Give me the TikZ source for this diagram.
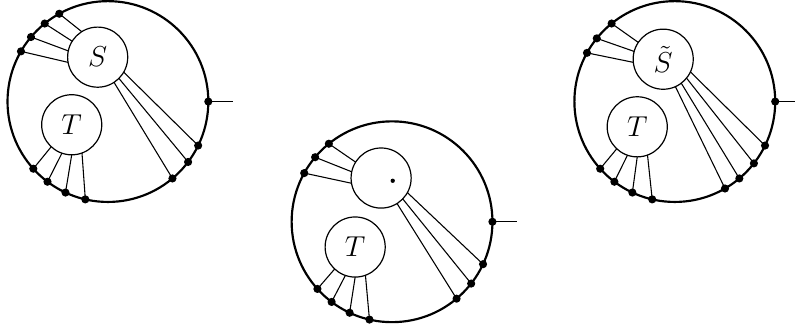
\documentclass[tikz,border=0pt]{standalone}
\usepackage{amsmath}
\usetikzlibrary{positioning}

\begin{document}
\begin{tikzpicture}[
    blob/.style={draw=black, line width=0.9pt, circle, minimum size=2.94cm, inner sep=0pt, outer sep=0pt},
    vertex/.style={draw=black, line width=0.5pt, circle, minimum size=0.88cm, inner sep=0pt, outer sep=0pt, font=\large},
    leg/.style={line width=0.45pt},
    stub/.style={line width=0.5pt},
    dot/.style={circle, fill=black, inner sep=0pt, minimum size=3.4pt},
    tinydot/.style={circle, fill=black, inner sep=0pt, minimum size=1.8pt}
]
\useasboundingbox (0,0) rectangle (11.64,4.817);

% Kreise
\node[blob] (A) at (1.58,3.33) {};
\node[vertex] (S) at ([shift={(-0.15,0.65)}]A.center) {$S$};
\node[vertex] (T) at ([shift={(-0.53,-0.34)}]A.center) {$T$};

\node[blob] (B) at (5.74,1.57) {};
\node[vertex] (X) at ([shift={(-0.16,0.64)}]B.center) {};
\node[tinydot] (x0) at ([shift={(0.17,-0.04)}]X.center) {};
\node[vertex] (U) at ([shift={(-0.54,-0.37)}]B.center) {$T$};

\node[blob] (C) at (9.88,3.33) {};
\node[vertex] (R) at ([shift={(-0.17,0.62)}]C.center) {$\tilde{S}$};
\node[vertex] (V) at ([shift={(-0.55,-0.37)}]C.center) {$T$};

% Beine links
\draw[leg] (S.122) -- (A.119) node[dot] (a1) {};
\draw[leg] (S.148) -- (A.129) node[dot] (a2) {};
\draw[leg] (S.168) -- (A.140) node[dot] (a3) {};
\draw[leg] (S.190) -- (A.150) node[dot] (a4) {};
\draw[leg] (S.-57) -- (A.-50) node[dot] (a5) {};
\draw[leg] (S.-45) -- (A.-37.5) node[dot] (a6) {};
\draw[leg] (S.-30) -- (A.-26) node[dot] (a7) {};
\draw[leg] (T.227) -- (A.222) node[dot] (a8) {};
\draw[leg] (T.251) -- (A.233) node[dot] (a9) {};
\draw[leg] (T.270) -- (A.245) node[dot] (a10) {};
\draw[leg] (T.290) -- (A.257) node[dot] (a11) {};
\node[dot] (a0) at (A.east) {};
\coordinate[right=0.36cm of a0.center] (ao);
\draw[stub] (a0.center) -- (ao);

% Beine Mitte
\draw[leg] (X.148) -- (B.129) node[dot] (b2) {};
\draw[leg] (X.168) -- (B.140) node[dot] (b3) {};
\draw[leg] (X.190) -- (B.151) node[dot] (b4) {};
\draw[leg] (X.-58) -- (B.-50.5) node[dot] (b5) {};
\draw[leg] (X.-44) -- (B.-38) node[dot] (b6) {};
\draw[leg] (X.-29) -- (B.-25.5) node[dot] (b7) {};
\draw[leg] (U.227) -- (B.222) node[dot] (b8) {};
\draw[leg] (U.251) -- (B.233) node[dot] (b9) {};
\draw[leg] (U.270) -- (B.245) node[dot] (b10) {};
\draw[leg] (U.290) -- (B.257) node[dot] (b11) {};
\node[dot] (b0) at (B.east) {};
\coordinate[right=0.36cm of b0.center] (bo);
\draw[stub] (b0.center) -- (bo);

% Beine rechts
\draw[leg] (R.146) -- (C.129) node[dot] (c2) {};
\draw[leg] (R.165) -- (C.141) node[dot] (c3) {};
\draw[leg] (R.186) -- (C.151) node[dot] (c4) {};
\draw[leg] (R.-66) -- (C.-60.5) node[dot] (c5) {};
\draw[leg] (R.-53) -- (C.-50.5) node[dot] (c6) {};
\draw[leg] (R.-39) -- (C.-38) node[dot] (c7) {};
\draw[leg] (R.-25) -- (C.-26) node[dot] (c8) {};
\draw[leg] (V.227) -- (C.222) node[dot] (c9) {};
\draw[leg] (V.251) -- (C.233) node[dot] (c10) {};
\draw[leg] (V.270) -- (C.245) node[dot] (c11) {};
\draw[leg] (V.290) -- (C.257) node[dot] (c12) {};
\node[dot] (c0) at (C.east) {};
\coordinate[right=0.36cm of c0.center] (co);
\draw[stub] (c0.center) -- (co);

\end{tikzpicture}
\end{document}
